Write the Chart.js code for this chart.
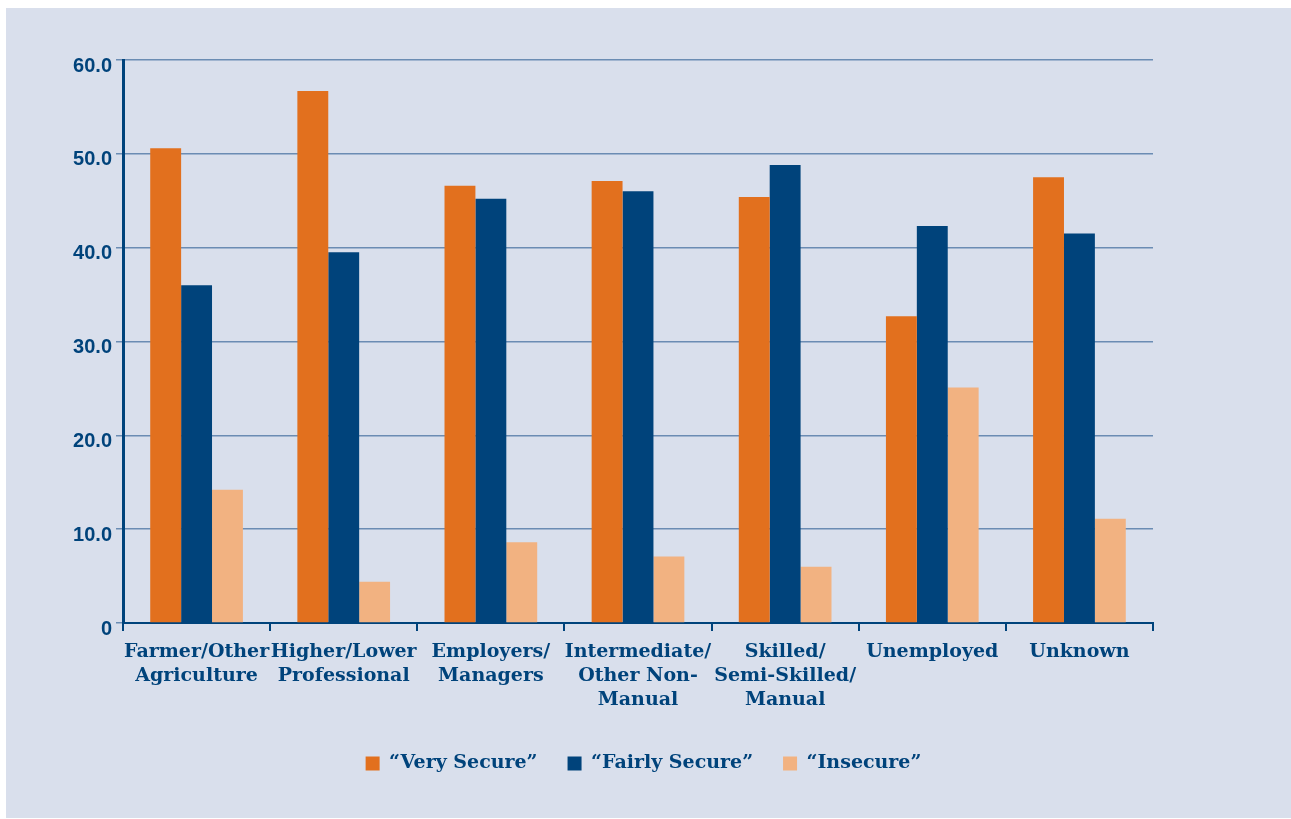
<!DOCTYPE html>
<html>
<head>
<meta charset="utf-8">
<script src="https://cdn.jsdelivr.net/npm/chart.js@4"></script>
<style>
  html, body { margin: 0; padding: 0; background: #ffffff; }
  #panel {
    position: absolute; left: 6px; top: 8px;
    width: 1285px; height: 810px;
    background: #d9dfec;
  }
</style>
</head>
<body>
<div id="panel"><canvas id="chart" width="1285" height="810"></canvas></div>
<script>
  const categories = [
    ["Farmer/Other", "Agriculture"],
    ["Higher/Lower", "Professional"],
    ["Employers/", "Managers"],
    ["Intermediate/", "Other Non-", "Manual"],
    ["Skilled/", "Semi-Skilled/", "Manual"],
    "Unemployed",
    "Unknown",
  ];
  const verySecure = [50.6, 56.7, 46.6, 47.1, 45.4, 32.7, 47.5];
  const fairlySecure = [36.0, 39.5, 45.2, 46.0, 48.8, 42.3, 41.5];
  const insecure = [14.2, 4.4, 8.6, 7.1, 6.0, 25.1, 11.1];
  const seriesLabels = ["\u201cVery Secure\u201d", "\u201cFairly Secure\u201d", "\u201cInsecure\u201d"];

  const NAVY = "#00437b";
  const ORANGE = "#e2701e";
  const PEACH = "#f2b281";
  const GRID = "#6b8cb3";
  const SLAB = "'DejaVu Serif', serif";

  new Chart(document.getElementById("chart"), {
    type: "bar",
    data: {
      labels: categories,
      datasets: [
        { label: seriesLabels[0], data: verySecure, backgroundColor: ORANGE },
        { label: seriesLabels[1], data: fairlySecure, backgroundColor: NAVY },
        { label: seriesLabels[2], data: insecure, backgroundColor: PEACH },
      ],
    },
    options: {
      responsive: false,
      animation: false,
      datasets: {
        bar: { categoryPercentage: 0.63, barPercentage: 1.0 },
      },
      layout: { padding: { top: 52, right: 10, left: 0, bottom: 35 } },
      plugins: {
        tooltip: { enabled: false },
        legend: {
          position: "bottom",
          labels: {
            color: NAVY,
            font: { family: SLAB, size: 19, weight: "bold" },
            boxWidth: 14,
            boxHeight: 14,
            padding: 30,
          },
        },
      },
      scales: {
        x: {
          afterFit: (scale) => { scale.height = 101; },
          border: { color: NAVY, width: 2 },
          grid: {
            offset: true,
            drawOnChartArea: false,
            drawTicks: true,
            tickLength: 8,
            color: NAVY,
            lineWidth: 2,
          },
          ticks: {
            color: NAVY,
            maxRotation: 0,
            autoSkip: false,
            padding: 9,
            font: { family: SLAB, size: 19, weight: "bold", lineHeight: 1.26 },
          },
        },
        y: {
          min: 0,
          max: 60,
          afterFit: (scale) => { scale.width = 117; },
          border: { color: NAVY, width: 3 },
          grid: {
            color: GRID,
            lineWidth: 1.5,
            drawTicks: true,
            tickLength: 7,
            tickColor: GRID,
          },
          ticks: {
            stepSize: 10,
            color: NAVY,
            padding: 4,
            labelOffset: 6,
            font: { family: "'Liberation Sans', Arial, sans-serif", size: 20, weight: "bold" },
            callback: (v) => (v === 0 ? "0" : v.toFixed(1)),
          },
        },
        // empty right-hand spacer so the legend stays centred on the panel
        spacer: {
          type: "linear",
          position: "right",
          display: true,
          afterFit: (scale) => { scale.width = 128; },
          border: { display: false },
          grid: { display: false },
          ticks: { display: false },
        },
      },
    },
  });
</script>
</body>
</html>
